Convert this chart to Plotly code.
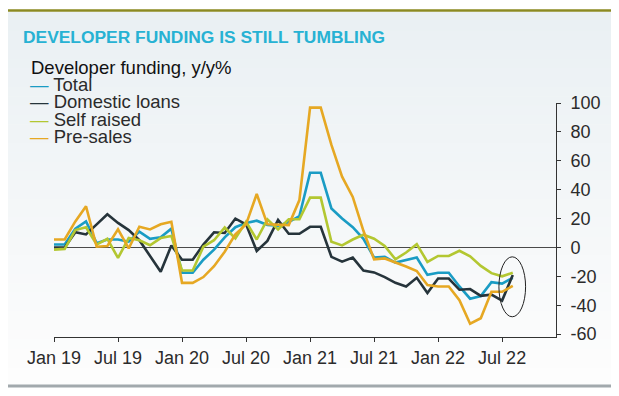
import plotly.graph_objects as go

# ---------------- data ----------------
month_labels = [
    "Jan 19", "Feb 19", "Mar 19", "Apr 19", "May 19", "Jun 19", "Jul 19", "Aug 19", "Sep 19", "Oct 19", "Nov 19", "Dec 19",
    "Jan 20", "Feb 20", "Mar 20", "Apr 20", "May 20", "Jun 20", "Jul 20", "Aug 20", "Sep 20", "Oct 20", "Nov 20", "Dec 20",
    "Jan 21", "Feb 21", "Mar 21", "Apr 21", "May 21", "Jun 21", "Jul 21", "Aug 21", "Sep 21", "Oct 21", "Nov 21", "Dec 21",
    "Jan 22", "Feb 22", "Mar 22", "Apr 22", "May 22", "Jun 22", "Jul 22", "Aug 22",
]

total = [2, 2, 13, 18, 3, 5.5, 5.5, 4, 11, 6, 7, 13,
         -17.5, -17.5, -8.5, -1.5, 7, 14, 17, 18.5, 15.5, 15, 17.5, 21.7,
         51.7, 51.7, 27, 20, 14, 6, -7, -6.5, -10.5, -9, -7, -19,
         -17.5, -17.5, -27, -35.5, -33.7, -24, -25, -21]

domestic_loans = [0, 0, 10.5, 9, 16, 23, 17, 12, 5, -6, -16.8, 1.3,
                  -8.5, -8.5, 2, 10.5, 10, 20, 16, -2.5, 4.5, 19, 9.5, 9.5,
                  14.3, 14.3, -6.5, -9.8, -7, -16, -17.3, -20.5, -24.5, -27, -21, -31.5,
                  -21.5, -21.5, -29.3, -28.8, -33.5, -32.7, -36.8, -19]

self_raised = [-1.5, -1, 12, 14, 2, 6, -7.3, 6.5, 5, 1.5, 6.5, 8,
               -16, -16, 0.5, 5, 13.8, 6.2, 17.8, 5.5, 19.4, 12.5, 19.5, 19.5,
               34.5, 34.5, 3.9, 1.4, 5.5, 8.8, 6, 1, -8.2, -3.5, 2.3, -10,
               -5.9, -5.9, -2.3, -6.2, -12.8, -17.8, -20, -17.5]

pre_sales = [5.5, 5.5, 18, 28.5, 0.5, 1, 12.5, -0.7, 14.3, 12.5, 16, 17.8,
             -24.5, -24.5, -20.5, -13, -3, 9, 16, 37, 16, 15.5, 15.5, 32.8,
             96.8, 96.8, 71, 49, 35, 11.5, -8.2, -7.6, -10.3, -13.2, -16.3, -26,
             -27, -27, -36.5, -52.8, -49, -30.7, -30.7, -26.6]

series_names = ["Total", "Domestic loans", "Self raised", "Pre-sales"]
series_values = [total, domestic_loans, self_raised, pre_sales]
series_colors = ["#1a9cc4", "#26343b", "#b3c731", "#e6a823"]

x_tick_labels = ["Jan 19", "Jul 19", "Jan 20", "Jul 20", "Jan 21", "Jul 21", "Jan 22", "Jul 22"]
y_tick_values = [100, 80, 60, 40, 20, 0, -20, -40, -60]
y_tick_text = ["100", "80", "60", "40", "20", "0", "-20", "-40", "-60"]

title_text = "DEVELOPER FUNDING IS STILL TUMBLING"
legend_title = "Developer funding, y/y%"

# ---------------- layout helpers ----------------
# the page body adds an 8px offset, so the figure is built 8px smaller
OFF = 8
W, H = 619 - OFF, 396 - OFF
PL, PR, PT, PB = 54 - OFF, 556 - OFF, 103 - OFF, 337 - OFF  # plot area (figure px)


def px_x(px):
    """reference-image x pixel -> paper coordinate"""
    return (px - OFF - PL) / (PR - PL)


def px_y(py):
    """reference-image y pixel -> paper coordinate"""
    return (PB - (py - OFF)) / (PB - PT)


FONT = "Liberation Sans, Arial, sans-serif"

fig = go.Figure()

for name, vals, col in zip(series_names, series_values, series_colors):
    fig.add_trace(go.Scatter(
        x=month_labels, y=vals, name=name, mode="lines",
        line=dict(color=col, width=2.6), showlegend=False,
    ))

shapes = []
# background gradient panel
n_strips = 40
top_c = (234, 240, 243)
bot_c = (253, 253, 253)
y_top, y_bot = 12, 386
for i in range(n_strips):
    t = i / (n_strips - 1)
    c = tuple(round(top_c[k] + (bot_c[k] - top_c[k]) * t) for k in range(3))
    y0 = y_top + (y_bot - y_top) * i / n_strips
    y1 = y_top + (y_bot - y_top) * (i + 1) / n_strips + 0.6
    shapes.append(dict(type="rect", xref="paper", yref="paper",
                       x0=px_x(8), x1=px_x(617), y0=px_y(y1), y1=px_y(y0),
                       fillcolor="rgb(%d,%d,%d)" % c, line=dict(width=0), layer="below"))
# top olive rule
shapes.append(dict(type="line", xref="paper", yref="paper",
                   x0=px_x(8), x1=px_x(617), y0=px_y(10.5), y1=px_y(10.5),
                   line=dict(color="#8b8a22", width=2.5)))
# bottom grey rule
shapes.append(dict(type="line", xref="paper", yref="paper",
                   x0=px_x(8), x1=px_x(617), y0=px_y(386), y1=px_y(386),
                   line=dict(color="#a2a9ad", width=3)))
# highlight ellipse around latest readings
shapes.append(dict(type="circle", xref="x", yref="y",
                   x0=41.7, x1=44.2, y0=-48, y1=-6.5,
                   line=dict(color="#222222", width=1)))

annotations = [
    dict(text=title_text, xref="paper", yref="paper", x=px_x(21), y=px_y(37),
         xanchor="left", yanchor="middle", showarrow=False,
         font=dict(family=FONT, size=17.4, color="#27b2d3", weight="bold")),
    dict(text=legend_title, xref="paper", yref="paper", x=px_x(29), y=px_y(67),
         xanchor="left", yanchor="middle", showarrow=False,
         font=dict(family=FONT, size=18.5, color="#111111")),
]
legend_rows_y = [84, 101.5, 119, 136.5]
for name, col, ry in zip(series_names, series_colors, legend_rows_y):
    annotations.append(dict(
        text="<span style='color:%s'>\u2014</span> %s" % (col, name),
        xref="paper", yref="paper", x=px_x(28), y=px_y(ry),
        xanchor="left", yanchor="middle", showarrow=False,
        font=dict(family=FONT, size=18.5, color="#2b2b2b")))

fig.update_layout(
    width=W, height=H, autosize=False,
    margin=dict(l=PL, r=W - PR, t=PT, b=H - PB, pad=0),
    paper_bgcolor="white", plot_bgcolor="rgba(0,0,0,0)",
    shapes=shapes, annotations=annotations,
    font=dict(family=FONT, color="#2b2b2b"),
)

fig.update_xaxes(
    type="category", range=[0, 47.05],
    tickvals=x_tick_labels, ticktext=x_tick_labels,
    showline=True, linecolor="#333333", linewidth=1,
    ticks="outside", ticklen=4, tickcolor="#333333",
    showgrid=False, zeroline=False,
    tickfont=dict(family=FONT, size=18, color="#2b2b2b"),
)
fig.update_yaxes(
    side="right", range=[-62, 100],
    tickvals=y_tick_values, ticktext=y_tick_text,
    showline=True, linecolor="#333333", linewidth=1,
    ticks="outside", ticklen=4, tickcolor="#333333", ticklabelstandoff=6,
    showgrid=False, zeroline=True, zerolinecolor="#4a4a4a", zerolinewidth=1,
    tickfont=dict(family=FONT, size=18, color="#2b2b2b"),
)

fig.write_html("out.html")
